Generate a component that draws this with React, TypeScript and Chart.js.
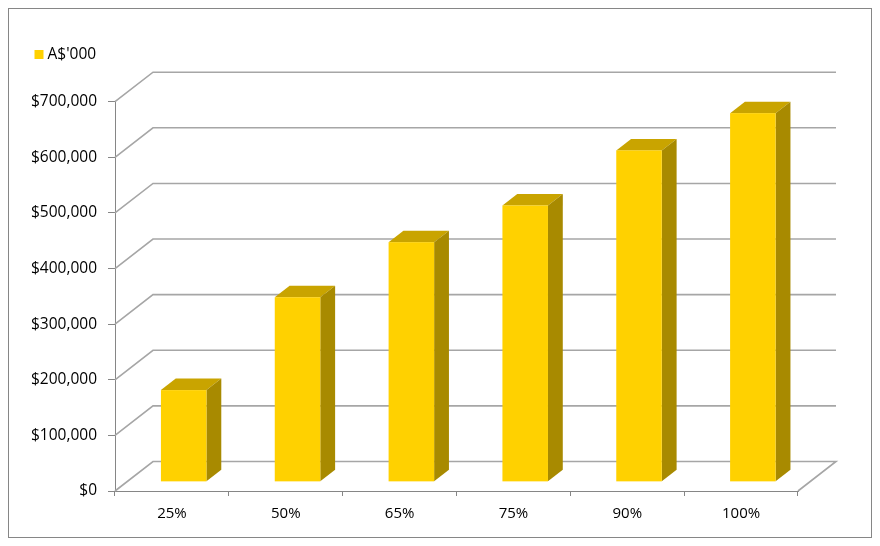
import React, { useEffect, useRef } from "react";
import { Chart, registerables } from "chart.js";

Chart.register(...registerables);

const categories = ["25%", "50%", "65%", "75%", "90%", "100%"];
const values = [165000, 332000, 431000, 497000, 596000, 663000];
const seriesLabel = "A$'000";
const yTicks = [0, 100000, 200000, 300000, 400000, 500000, 600000, 700000];

// 3D look: depth offset from the front plane to the back wall
const DEPTH_X = 38;
const DEPTH_Y = 29.5;
const BAR_FRONT = 0.31;
const BAR_BACK = 0.7;

const FONT = "'Open Sans', 'Noto Sans', sans-serif";

const threeD = {
  id: "threeD",
  beforeDatasetsDraw(chart: any) {
    const { ctx, chartArea, scales } = chart;
    const y = scales.y;
    ctx.save();
    ctx.strokeStyle = "#a6a6a6";
    ctx.lineWidth = 1.6;
    y.ticks.forEach((t: any) => {
      const py = y.getPixelForValue(t.value);
      ctx.beginPath();
      ctx.moveTo(chartArea.left, py);
      ctx.lineTo(chartArea.left + DEPTH_X, py - DEPTH_Y);
      ctx.lineTo(chartArea.right + DEPTH_X, py - DEPTH_Y);
      if (t.value === 0) ctx.lineTo(chartArea.right, py);
      ctx.stroke();
    });
    ctx.restore();
  },
  afterDatasetsDraw(chart: any) {
    const { ctx } = chart;
    const meta = chart.getDatasetMeta(0);
    const d = BAR_BACK - BAR_FRONT;
    const ddx = d * DEPTH_X;
    const ddy = d * DEPTH_Y;
    ctx.save();
    meta.data.forEach((bar: any) => {
      const { x, y, base, width } = bar.getProps(["x", "y", "base", "width"], true);
      const x0 = x - width / 2 + BAR_FRONT * DEPTH_X;
      const x1 = x + width / 2 + BAR_FRONT * DEPTH_X;
      const top = y - BAR_FRONT * DEPTH_Y;
      const bot = base - BAR_FRONT * DEPTH_Y;

      // top face
      ctx.fillStyle = "#c9a400";
      ctx.beginPath();
      ctx.moveTo(x0, top);
      ctx.lineTo(x1, top);
      ctx.lineTo(x1 + ddx, top - ddy);
      ctx.lineTo(x0 + ddx, top - ddy);
      ctx.closePath();
      ctx.fill();

      // side face
      ctx.fillStyle = "#a88a00";
      ctx.beginPath();
      ctx.moveTo(x1, top);
      ctx.lineTo(x1 + ddx, top - ddy);
      ctx.lineTo(x1 + ddx, bot - ddy);
      ctx.lineTo(x1, bot);
      ctx.closePath();
      ctx.fill();

      // front face
      ctx.fillStyle = "#ffd100";
      ctx.fillRect(x0, top, x1 - x0, bot - top);
    });
    ctx.restore();
  },
  afterDraw(chart: any) {
    const { ctx } = chart;
    ctx.save();
    ctx.fillStyle = "#ffd100";
    ctx.fillRect(25.5, 41, 9, 9);
    ctx.fillStyle = "#000";
    ctx.font = `15.5px ${FONT}`;
    ctx.textBaseline = "middle";
    ctx.fillText(seriesLabel, 38.5, 46);
    ctx.restore();
  },
};

const App: React.FC = () => {
  const chartRef = useRef<HTMLCanvasElement | null>(null);

  useEffect(() => {
    if (!chartRef.current) return;
    const chart = new Chart(chartRef.current, {
      type: "bar",
      data: {
        labels: categories,
        datasets: [
          {
            label: seriesLabel,
            data: values,
            backgroundColor: "rgba(0,0,0,0)",
            borderWidth: 0,
            barPercentage: 0.4,
            categoryPercentage: 1,
          },
        ],
      },
      options: {
        responsive: true,
        maintainAspectRatio: false,
        animation: false,
        layout: { padding: { left: 0, right: 73, top: 92.7, bottom: 0 } },
        plugins: {
          legend: { display: false },
          tooltip: { enabled: false },
        },
        scales: {
          x: {
            afterFit: (scale: any) => {
              scale.height = 46;
            },
            grid: {
              offset: true,
              drawOnChartArea: false,
              drawTicks: true,
              tickLength: 5,
              color: "#868686",
            },
            border: { display: true, color: "#868686" },
            ticks: {
              color: "#000",
              padding: 9,
              font: { family: FONT, size: 15 },
            },
          },
          y: {
            min: 0,
            max: 700000,
            afterFit: (scale: any) => {
              scale.width = 106;
            },
            afterBuildTicks: (scale: any) => {
              scale.ticks = yTicks.map((v) => ({ value: v }));
            },
            grid: {
              drawOnChartArea: false,
              drawTicks: true,
              tickLength: 7,
              color: "#868686",
            },
            border: { display: true, color: "#868686" },
            ticks: {
              color: "#000",
              padding: 11,
              font: { family: FONT, size: 15.5 },
              callback: (v: any) => "$" + Number(v).toLocaleString("en-US"),
            },
          },
        },
      },
      plugins: [threeD],
    });
    return () => {
      chart.destroy();
    };
  }, []);

  return (
    <div
      style={{
        width: 864,
        height: 530,
        border: "1px solid #868686",
        boxSizing: "border-box",
        background: "#fff",
      }}
    >
      <div style={{ position: "relative", width: 862, height: 528 }}>
        <canvas ref={chartRef} />
      </div>
    </div>
  );
};

export default App;
